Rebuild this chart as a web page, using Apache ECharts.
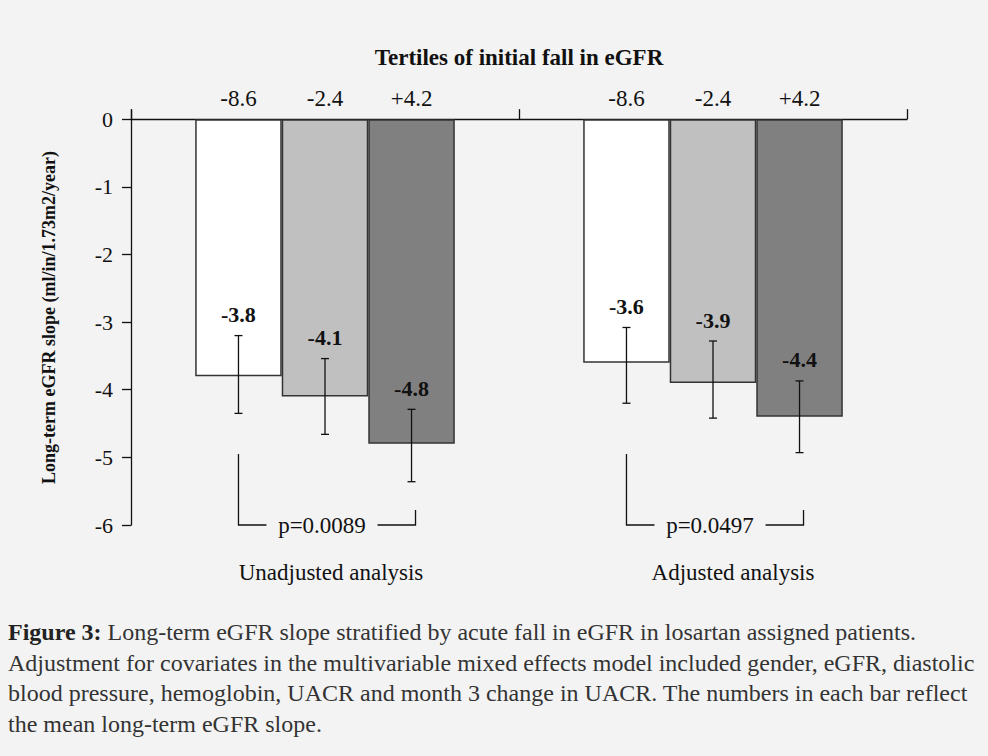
<!DOCTYPE html>
<html>
<head>
<meta charset="utf-8">
<script src="https://cdn.jsdelivr.net/npm/echarts@6/dist/echarts.min.js"></script>
<style>
  html, body { margin: 0; padding: 0; background: #f3f3f3; }
  #chart { width: 988px; height: 756px; }
</style>
</head>
<body>
<div id="chart"></div>
<script>
// Groups along the x axis
const analyses = ['Unadjusted analysis', 'Adjusted analysis'];
// Tertiles of the initial fall in eGFR (header labels)
const tertiles = ['-8.6', '-2.4', '+4.2'];
// Mean long-term eGFR slope per tertile, [unadjusted, adjusted]
const slopeTertile1 = [-3.8, -3.6];
const slopeTertile2 = [-4.1, -3.9];
const slopeTertile3 = [-4.8, -4.4];
// Error bar ends per tertile, [unadjusted, adjusted]
const upperTertile1 = [-3.20, -3.08];
const upperTertile2 = [-3.54, -3.28];
const upperTertile3 = [-4.29, -3.87];
const lowerTertile1 = [-4.35, -4.20];
const lowerTertile2 = [-4.66, -4.42];
const lowerTertile3 = [-5.36, -4.93];
// Trend test p-values per analysis
const pValues = ['p=0.0089', 'p=0.0497'];
// Y axis ticks
const yTicks = [-6, -5, -4, -3, -2, -1, 0];
const yName = 'Long-term eGFR slope (ml/in/1.73m2/year)';
const titleText = 'Tertiles of initial fall in eGFR';
const captionLines = [
  '{b|Figure 3:} Long-term eGFR slope stratified by acute fall in eGFR in losartan assigned patients.',
  'Adjustment for covariates in the multivariable mixed effects model included gender, eGFR, diastolic',
  'blood pressure, hemoglobin, UACR and month 3 change in UACR. The numbers in each bar reflect',
  'the mean long-term eGFR slope.'
];

const SERIF = '"Liberation Serif", "Times New Roman", Times, serif';
const INK = '#111';
const BAR_SHARE = 0.223;   // share of a category band taken by one bar
const fills = ['#ffffff', '#c0c0c0', '#808080'];

const slopes = [slopeTertile1, slopeTertile2, slopeTertile3];
const uppers = [upperTertile1, upperTertile2, upperTertile3];
const lowers = [lowerTertile1, lowerTertile2, lowerTertile3];

// [category, tertile, mean, upper, lower]
const errData = [];
for (let c = 0; c < analyses.length; c++) {
  for (let t = 0; t < tertiles.length; t++) {
    errData.push([c, t, slopes[t][c], uppers[t][c], lowers[t][c]]);
  }
}
const headerData = [];
for (let c = 0; c < analyses.length; c++) {
  for (let t = 0; t < tertiles.length; t++) headerData.push([c, t, 0]);
}
const bracketData = pValues.map((p, c) => [c, -6]);

function tertileX(api, cat, t) {
  const band = api.size([1, 0])[0];
  return api.coord([cat, 0])[0] + (t - 1) * band * BAR_SHARE;
}

const lineStyle = { stroke: INK, lineWidth: 1.3, fill: null };

const chart = echarts.init(document.getElementById('chart'), null, { renderer: 'svg' });

chart.setOption({
  backgroundColor: '#f3f3f3',
  animation: false,
  title: {
    text: titleText,
    left: 519, top: 46, textAlign: 'center', padding: 0,
    textStyle: { fontFamily: SERIF, fontSize: 23, fontWeight: 'bold', color: INK }
  },
  grid: { left: 131, right: 81, top: 110, bottom: 231 },
  xAxis: [
    {
      type: 'category',
      data: analyses,
      position: 'top',
      axisLine: { onZero: true, lineStyle: { color: INK, width: 1.3 } },
      axisTick: { show: true, length: 10, lineStyle: { color: INK, width: 1.3 } },
      axisLabel: { show: false },
      splitLine: { show: false }
    },
    {
      type: 'category',
      data: [
        { value: analyses[0], textStyle: { padding: [0, 0, 0, 12] } },
        { value: analyses[1], textStyle: { padding: [0, 0, 0, 40] } }
      ],
      position: 'bottom',
      axisLine: { show: false, onZero: false },
      axisTick: { show: false },
      axisLabel: { margin: 36, fontFamily: SERIF, fontSize: 23, color: INK },
      splitLine: { show: false }
    }
  ],
  yAxis: {
    type: 'value',
    min: -6, max: 0.135,
    name: yName,
    nameLocation: 'middle',
    nameGap: 73,
    nameTextStyle: { fontFamily: SERIF, fontSize: 18, fontWeight: 'bold', color: INK },
    axisLine: { show: true, lineStyle: { color: INK, width: 1.3 } },
    axisTick: { show: true, length: 9, customValues: yTicks, lineStyle: { color: INK, width: 1.3 } },
    axisLabel: {
      customValues: yTicks,
      margin: 18,
      fontFamily: SERIF, fontSize: 22, color: INK,
      formatter: v => (Number.isInteger(v) ? String(v) : '')
    },
    splitLine: { show: false }
  },
  series: [
    ...slopes.map((vals, t) => ({
      type: 'bar',
      name: tertiles[t],
      xAxisIndex: 0,
      data: vals,
      barWidth: (BAR_SHARE * 100) + '%',
      barGap: '0%',
      itemStyle: { color: fills[t], borderColor: '#333', borderWidth: 1.5 },
      z: 2
    })),
    {
      // error bars with the bold mean value above each
      type: 'custom',
      xAxisIndex: 0,
      data: errData,
      encode: { x: 0, y: 2 },
      z: 5,
      renderItem: (params, api) => {
        const c = api.value(0), t = api.value(1);
        const x = tertileX(api, c, t);
        const yu = api.coord([c, api.value(3)])[1];
        const yl = api.coord([c, api.value(4)])[1];
        const cap = 4;
        return {
          type: 'group',
          children: [
            { type: 'line', shape: { x1: x, y1: yu, x2: x, y2: yl }, style: lineStyle },
            { type: 'line', shape: { x1: x - cap, y1: yu, x2: x + cap, y2: yu }, style: lineStyle },
            { type: 'line', shape: { x1: x - cap, y1: yl, x2: x + cap, y2: yl }, style: lineStyle },
            {
              type: 'text',
              style: {
                x: x, y: yu - 21,
                text: api.value(2).toFixed(1),
                align: 'center', verticalAlign: 'middle',
                fontFamily: SERIF, fontSize: 22, fontWeight: 'bold', fill: INK
              }
            }
          ]
        };
      }
    },
    {
      // tertile header labels above the zero line
      type: 'custom',
      xAxisIndex: 0,
      data: headerData,
      encode: { x: 0, y: 2 },
      z: 5,
      renderItem: (params, api) => {
        const c = api.value(0), t = api.value(1);
        const x = tertileX(api, c, t);
        const y0 = api.coord([c, 0])[1];
        return {
          type: 'text',
          style: {
            x: x, y: y0 - 21,
            text: tertiles[t],
            align: 'center', verticalAlign: 'middle',
            fontFamily: SERIF, fontSize: 23, fill: INK
          }
        };
      }
    },
    {
      // trend-test brackets beneath each group
      type: 'custom',
      xAxisIndex: 0,
      data: bracketData,
      encode: { x: 0, y: 1 },
      z: 5,
      renderItem: (params, api) => {
        const c = api.value(0);
        const x1 = tertileX(api, c, 0);
        const x3 = tertileX(api, c, 2) + 4;
        const yb = api.coord([c, api.value(1)])[1];
        const gapL = x1 + 28, gapR = x3 - 38;
        return {
          type: 'group',
          children: [
            { type: 'polyline', shape: { points: [[x1, yb - 71], [x1, yb], [gapL, yb]] }, style: lineStyle },
            { type: 'polyline', shape: { points: [[gapR, yb], [x3, yb], [x3, yb - 15]] }, style: lineStyle },
            {
              type: 'text',
              style: {
                x: (gapL + gapR) / 2, y: yb,
                text: pValues[c],
                align: 'center', verticalAlign: 'middle',
                fontFamily: SERIF, fontSize: 23, fill: INK
              }
            }
          ]
        };
      }
    }
  ],
  graphic: captionLines.map((line, i) => ({
    type: 'text',
    left: 8,
    top: 620 + i * 30.5,
    style: {
      text: line,
      fontFamily: SERIF, fontSize: 24, fill: '#333',
      rich: { b: { fontFamily: SERIF, fontSize: 24, fontWeight: 'bold', fill: '#222' } }
    }
  }))
});
</script>
</body>
</html>
